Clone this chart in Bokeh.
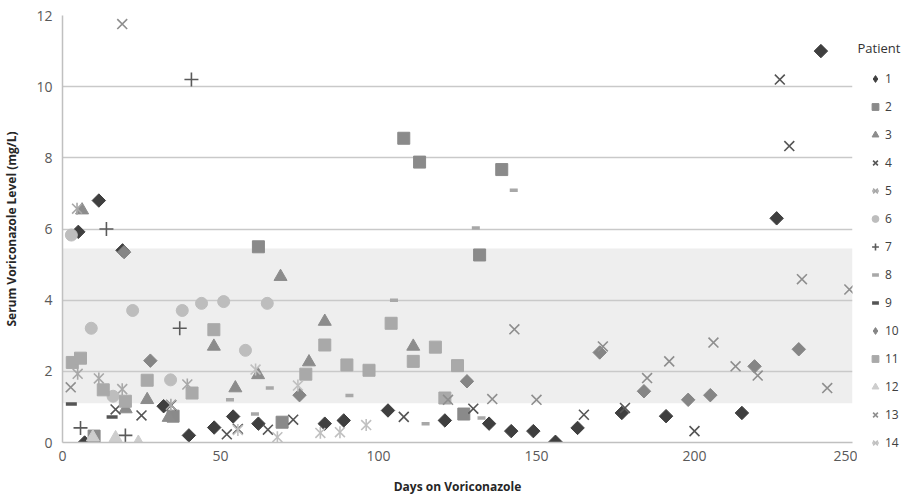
import numpy as np
from bokeh.plotting import figure
from bokeh.layouts import row
from bokeh.models import Legend, LegendItem, BoxAnnotation, FixedTicker, Range1d, Label
from bokeh.embed import file_html
from bokeh.resources import INLINE

# ---- data (days on voriconazole, serum level mg/L) ----
P1_X = [5, 7, 11.5, 19, 32, 40, 48, 54, 62, 83, 89, 103, 121, 135, 142, 149, 156, 163, 177, 191, 215, 226, 240]
P1_Y = [5.92, 0.0, 6.8, 5.4, 1.02, 0.2, 0.42, 0.73, 0.53, 0.53, 0.62, 0.9, 0.62, 0.53, 0.32, 0.32, 0.02, 0.41, 0.83, 0.74, 0.83, 6.3, 11.0]
P2_X = [10, 35, 62, 69.5, 108, 113, 127, 132, 139]
P2_Y = [0.18, 0.74, 5.5, 0.57, 8.55, 7.88, 0.8, 5.27, 7.67]
P3_X = [6.2, 20, 26.8, 33.6, 47.9, 54.7, 61.9, 69, 78, 83, 111]
P3_Y = [6.53, 0.94, 1.2, 0.7, 2.7, 1.53, 1.9, 4.66, 2.26, 3.4, 2.7]
P4_X = [16.8, 25, 34.4, 52, 55.5, 65, 73, 108, 130, 165, 178, 200, 227, 230]
P4_Y = [0.93, 0.76, 1.05, 0.23, 0.38, 0.36, 0.64, 0.72, 0.95, 0.78, 0.97, 0.32, 10.2, 8.33]
P5_X = [4.6, 4.8, 11.5, 18.9, 34.3, 39.5]
P5_Y = [6.57, 1.93, 1.8, 1.5, 1.06, 1.63]
P6_X = [2.8, 9.1, 16, 22.2, 34.2, 37.9, 44, 51, 57.9, 64.8]
P6_Y = [5.83, 3.21, 1.3, 3.71, 1.76, 3.71, 3.91, 3.96, 2.59, 3.91]
P7_X = [5.7, 13.9, 19.9, 37.1, 40.8]
P7_Y = [0.41, 6.0, 0.2, 3.21, 10.2]
P8_X = [53, 60.9, 65.6, 90.8, 104.9, 114.9, 130.8, 132.6, 142.8]
P8_Y = [1.2, 0.8, 1.53, 1.32, 4.0, 0.53, 6.03, 0.69, 7.09]
P9_X = [2.8, 15.7]
P9_Y = [1.08, 0.72]
P10_X = [19.5, 27.8, 75, 128, 170, 184, 198, 205, 219, 233]
P10_Y = [5.35, 2.3, 1.33, 1.72, 2.53, 1.44, 1.2, 1.33, 2.14, 2.62]
P11_X = [3.1, 5.7, 12.9, 19.9, 26.8, 41, 47.9, 77, 83, 90, 97, 104, 111, 118, 121, 125]
P11_Y = [2.25, 2.37, 1.48, 1.16, 1.75, 1.39, 3.17, 1.92, 2.74, 2.18, 2.03, 3.35, 2.28, 2.68, 1.25, 2.16]
P12_X = [9.6, 16.8, 24]
P12_Y = [0.15, 0.13, 0.0]
P13_X = [2.6, 18.9, 122, 136, 143, 150, 171, 185, 192, 206, 213, 220, 234, 242, 249]
P13_Y = [1.55, 11.76, 1.2, 1.22, 3.18, 1.2, 2.7, 1.81, 2.28, 2.81, 2.14, 1.88, 4.59, 1.53, 4.3]
P14_X = [55.5, 61.1, 68, 74.5, 81.6, 87.8, 96.1]
P14_Y = [0.35, 2.05, 0.15, 1.6, 0.27, 0.29, 0.49]

PATIENTS = [str(i) for i in range(1, 15)]
X_TICKS = [0, 50, 100, 150, 200, 250]
Y_TICKS = [0, 2, 4, 6, 8, 10, 12]
TARGET_LOW, TARGET_HIGH = 1.1, 5.45

SERIES = [
    (P1_X, P1_Y), (P2_X, P2_Y), (P3_X, P3_Y), (P4_X, P4_Y), (P5_X, P5_Y),
    (P6_X, P6_Y), (P7_X, P7_Y), (P8_X, P8_Y), (P9_X, P9_Y), (P10_X, P10_Y),
    (P11_X, P11_Y), (P12_X, P12_Y), (P13_X, P13_Y), (P14_X, P14_Y),
]

# ---- styles ----
STYLES = [
    dict(kind="diamond", color="#3f3f3f", size=9.5),
    dict(kind="square", color="#8a8a8a", size=12),
    dict(kind="triangle", color="#8c8c8c", size=13),
    dict(kind="x", color="#555555", size=14),
    dict(kind="star", color="#a8a8a8", size=14),
    dict(kind="circle", color="#bdbdbd", size=12),
    dict(kind="cross", color="#5a5a5a", size=14),
    dict(kind="dash", color="#a8a8a8", size=8),
    dict(kind="longdash", color="#555555", size=11),
    dict(kind="diamond", color="#858585", size=9.5),
    dict(kind="square", color="#a9a9a9", size=12),
    dict(kind="triangle", color="#cdcdcd", size=13),
    dict(kind="x", color="#8e8e8e", size=14),
    dict(kind="star", color="#c0c0c0", size=14),
]

FONT = "Open Sans"
MAIN_W, LEG_W, H = 857, 50, 497


def draw(fig, xs, ys, st, legend_glyph=False):
    k, c, s = st["kind"], st["color"], st["size"]
    rs = []
    if k == "diamond":
        if legend_glyph:
            rs.append(fig.scatter(xs, ys, marker="diamond", size=s, fill_color=c, line_color=c))
        else:
            rs.append(fig.scatter(xs, ys, marker="square", angle=np.pi / 4, size=s,
                                  fill_color=c, line_color=c))
    elif k in ("square", "triangle", "circle"):
        rs.append(fig.scatter(xs, ys, marker=k, size=s, fill_color=c, line_color=c))
    elif k in ("x", "cross"):
        rs.append(fig.scatter(xs, ys, marker=k, size=s, line_color=c, line_width=1.6))
    elif k == "star":
        rs.append(fig.scatter(xs, ys, marker="x", size=s, line_color=c, line_width=1.6))
        rs.append(fig.scatter(xs, ys, marker="dash", angle=np.pi / 2, size=s * 0.85,
                              line_color=c, line_width=1.6))
    elif k == "dash":
        rs.append(fig.scatter(xs, ys, marker="dash", size=s, line_color=c, line_width=3.5))
    elif k == "longdash":
        rs.append(fig.scatter(xs, ys, marker="dash", size=s, line_color=c, line_width=3.5))
    return rs


# ---- main plot ----
p = figure(width=MAIN_W, height=H,
           x_range=Range1d(0, 250), y_range=Range1d(0, 12),
           output_backend="svg", toolbar_location=None,
           min_border_left=62, min_border_right=5, min_border_top=15, min_border_bottom=54)
p.outline_line_color = None
p.background_fill_color = "white"
p.border_fill_color = "white"

band = BoxAnnotation(bottom=TARGET_LOW, top=TARGET_HIGH, left=0, right=250,
                     fill_color="#eeeeee", fill_alpha=1.0, line_color=None, level="image")
p.add_layout(band)

p.xgrid.visible = False
p.ygrid.grid_line_color = "#c9c9c9"
p.ygrid.grid_line_width = 1.5
p.ygrid.ticker = FixedTicker(ticks=Y_TICKS)

p.xaxis.ticker = FixedTicker(ticks=X_TICKS)
p.yaxis.ticker = FixedTicker(ticks=Y_TICKS)
for ax in (p.xaxis[0], p.yaxis[0]):
    ax.major_tick_line_color = None
    ax.minor_tick_line_color = None
    ax.major_tick_out = 0
    ax.major_label_text_font = FONT
    ax.major_label_text_font_size = "14px"
    ax.major_label_text_color = "#595959"
    ax.axis_label_text_font = FONT
    ax.axis_label_text_font_size = "12px"
    ax.axis_label_text_font_style = "bold"
    ax.axis_label_text_color = "#262626"
    ax.axis_line_color = "#c0c0c0"
    ax.axis_line_width = 1.5
p.xaxis.axis_label = "Days on Voriconazole"
p.yaxis.axis_label = "Serum Voriconazole Level (mg/L)"
p.xaxis.major_label_standoff = 8
p.xaxis.axis_label_standoff = 14
p.yaxis.major_label_standoff = 10
p.yaxis.axis_label_standoff = 13

for (xs, ys), st in zip(SERIES, STYLES):
    draw(p, xs, ys, st)

# ---- legend panel (separate narrow canvas to the right) ----
lf = figure(width=LEG_W, height=H, x_range=Range1d(0, LEG_W), y_range=Range1d(0, H),
            output_backend="svg", toolbar_location=None,
            x_axis_type=None, y_axis_type=None,
            min_border_left=0, min_border_right=0, min_border_top=0, min_border_bottom=0)
lf.frame_align = False
lf.outline_line_color = None
lf.xgrid.visible = False
lf.ygrid.visible = False
lf.background_fill_color = "white"
lf.border_fill_color = "white"

items = []
for name, st in zip(PATIENTS, STYLES):
    rs = draw(lf, [np.nan], [np.nan], st, legend_glyph=True)
    items.append(LegendItem(label=name, renderers=rs))

legend = Legend(items=items, location=(9, 46),
                border_line_color=None, background_fill_alpha=0,
                padding=0, margin=0, spacing=11,
                glyph_width=18, glyph_height=17, label_height=17, label_standoff=1,
                label_text_font=FONT, label_text_font_size="12px",
                label_text_color="#404040")
lf.add_layout(legend, "center")

lf.add_layout(Label(x=0, y=H - 47, text="Patient", text_font=FONT,
                    text_font_size="13px", text_color="#333333",
                    text_baseline="middle", text_align="left"))

layout = row(p, lf, spacing=0)
open("out.html", "w").write(file_html(layout, INLINE))
